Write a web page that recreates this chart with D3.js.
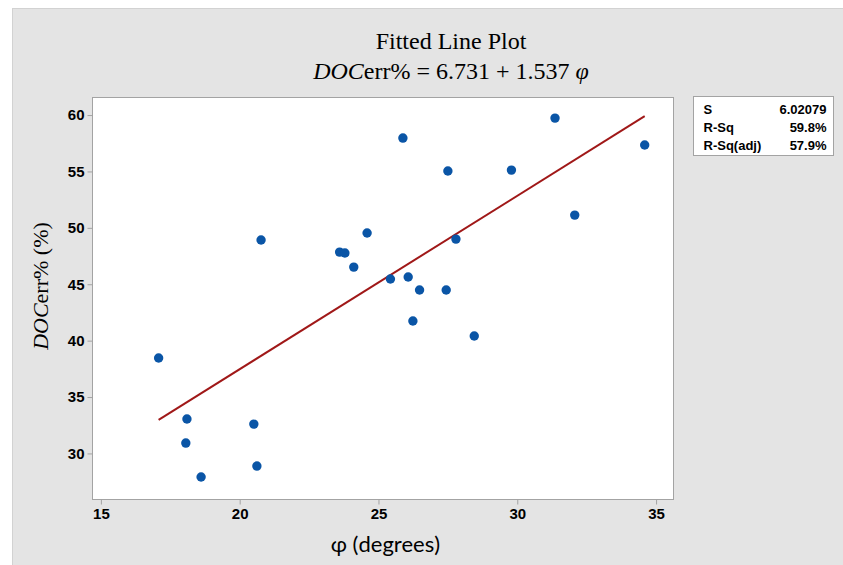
<!DOCTYPE html>
<html>
<head>
<meta charset="utf-8">
<script src="https://cdn.jsdelivr.net/npm/d3@7"></script>
<style>
  body { margin: 0; background: #fff; }
</style>
</head>
<body>
<script>
// data
const phi = [17.08, 18.10, 18.06, 18.61, 20.51, 20.62, 20.77, 23.60, 23.79, 24.11, 24.59, 25.43,
             25.88, 26.07, 26.24, 26.48, 27.44, 27.50, 27.79, 28.45, 29.79, 31.36, 32.07, 34.59];
const docErr = [38.46, 33.05, 30.92, 27.91, 32.60, 28.88, 48.92, 47.85, 47.77, 46.52, 49.54, 45.46,
                57.96, 45.64, 41.74, 44.49, 44.49, 55.04, 49.00, 40.41, 55.12, 59.73, 51.13, 57.34];
const fitCoef = [6.731, 1.537]; // intercept, slope
const xTicks = [15, 20, 25, 30, 35];
const yTicks = [30, 35, 40, 45, 50, 55, 60];
const statLabels = ["S", "R-Sq", "R-Sq(adj)"];
const statValues = ["6.02079", "59.8%", "57.9%"];

var W = 843, H = 565;
var margin = {top: 97, right: 170, bottom: 66, left: 92},
    width = W - margin.left - margin.right,
    height = H - margin.top - margin.bottom;

var svg = d3.select("body").append("svg")
    .attr("width", W)
    .attr("height", H);

// outer grey panel
svg.append("rect")
    .attr("x", 12.5).attr("y", 8.5)
    .attr("width", W).attr("height", H)
    .attr("fill", "#e4e4e4")
    .attr("stroke", "#d2d2d2");

// title
var title = svg.append("text")
    .attr("text-anchor", "middle")
    .attr("font-family", "'Liberation Serif', 'Times New Roman', serif")
    .attr("font-size", "24px")
    .attr("fill", "#000");
title.append("tspan").attr("x", 451).attr("y", 49).text("Fitted Line Plot");
var t2 = title.append("tspan").attr("x", 451).attr("y", 79);
t2.append("tspan").attr("font-style", "italic").text("DOC");
t2.append("tspan").text("err% = " + fitCoef[0] + " + " + fitCoef[1] + " ");
t2.append("tspan").attr("font-style", "italic").text("φ");

var g = svg.append("g")
    .attr("transform", "translate(" + margin.left + "," + margin.top + ")");

var x = d3.scaleLinear().domain([14.68, 35.61]).range([0, width]);
var y = d3.scaleLinear().domain([25.96, 61.6]).range([height, 0]);

// plot area
g.append("rect")
    .attr("x", 0.5).attr("y", 0.5)
    .attr("width", width).attr("height", height)
    .attr("fill", "#fff")
    .attr("stroke", "#a3a3a3");

// axes
var xAxis = g.append("g")
    .attr("transform", "translate(0," + (height + 0.5) + ")")
    .call(d3.axisBottom(x).tickValues(xTicks).tickSize(5).tickPadding(4));
var yAxis = g.append("g")
    .attr("transform", "translate(0.5,0)")
    .call(d3.axisLeft(y).tickValues(yTicks).tickSize(5).tickPadding(3));

[xAxis, yAxis].forEach(function(a) {
    a.select(".domain").remove();
    a.selectAll(".tick line").attr("stroke", "#a3a3a3");
    a.selectAll(".tick text")
        .attr("fill", "#000")
        .attr("font-family", "'Liberation Sans', Arial, sans-serif")
        .attr("font-weight", "bold")
        .attr("font-size", "15px");
});

// fitted line
var xMin = d3.min(phi), xMax = d3.max(phi);
var fit = [xMin, xMax].map(function(v) { return {x: v, y: fitCoef[0] + fitCoef[1] * v}; });
g.append("path")
    .datum(fit)
    .attr("fill", "none")
    .attr("stroke", "#a01818")
    .attr("stroke-width", 2)
    .attr("d", d3.line().x(d => x(d.x)).y(d => y(d.y)));

// points
g.selectAll(".pt")
    .data(phi.map(function(v, i) { return {x: v, y: docErr[i]}; }))
    .enter().append("circle")
    .attr("class", "pt")
    .attr("cx", d => x(d.x))
    .attr("cy", d => y(d.y))
    .attr("r", 4.7)
    .attr("fill", "#0a55a6");

// axis labels
svg.append("text")
    .attr("x", margin.left + x(25.25))
    .attr("y", 552)
    .attr("text-anchor", "middle")
    .attr("font-family", "Lato, 'Open Sans', sans-serif")
    .attr("font-size", "22px")
    .attr("fill", "#000")
    .text("φ (degrees)");

var yl = svg.append("text")
    .attr("transform", "translate(48,286) rotate(-90)")
    .attr("text-anchor", "middle")
    .attr("font-family", "'Liberation Serif', 'Times New Roman', serif")
    .attr("font-size", "22px")
    .attr("fill", "#000");
yl.append("tspan").attr("font-style", "italic").text("DOC");
yl.append("tspan").text("err% (%)");

// stats box
var box = svg.append("g").attr("transform", "translate(693.5,96.5)");
box.append("rect")
    .attr("width", 140).attr("height", 59)
    .attr("fill", "#fff")
    .attr("stroke", "#a3a3a3");
box.selectAll(".lab")
    .data(statLabels)
    .enter().append("text")
    .attr("x", 10)
    .attr("y", (d, i) => 17 + i * 18)
    .attr("font-family", "'Liberation Sans', Arial, sans-serif")
    .attr("font-weight", "bold")
    .attr("font-size", "13px")
    .text(d => d);
box.selectAll(".val")
    .data(statValues)
    .enter().append("text")
    .attr("x", 133)
    .attr("y", (d, i) => 17 + i * 18)
    .attr("text-anchor", "end")
    .attr("font-family", "'Liberation Sans', Arial, sans-serif")
    .attr("font-weight", "bold")
    .attr("font-size", "13px")
    .text(d => d);
</script>
</body>
</html>
